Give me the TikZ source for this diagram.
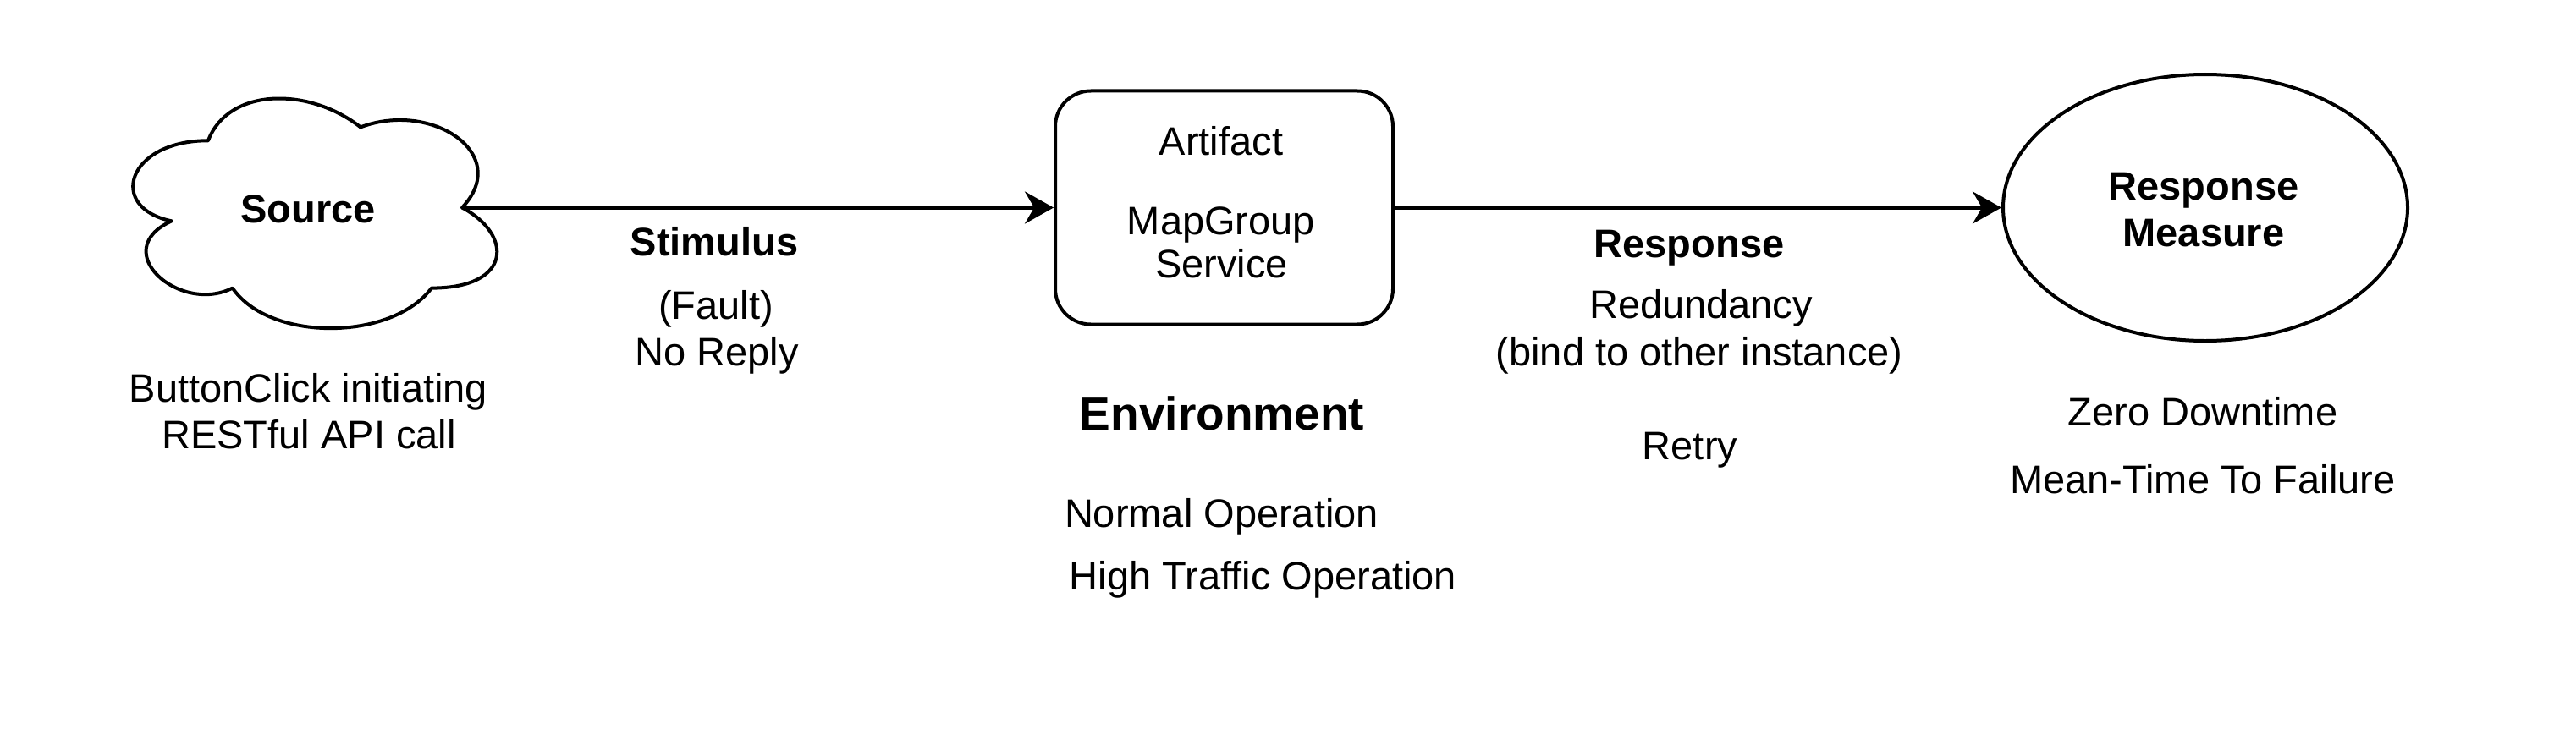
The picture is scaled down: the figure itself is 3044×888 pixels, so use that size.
\documentclass[tikz,border=0pt]{standalone}
\usepackage{fontspec}
\setmainfont{Liberation Sans}
\usetikzlibrary{arrows.meta,shapes.geometric}
\begin{document}
\begin{tikzpicture}[x=0.5pt,y=-0.5pt,
  txt/.style={anchor=base, inner sep=0pt, font=\fontsize{23.5pt}{27.5pt}\selectfont},
  btxt/.style={anchor=base, inner sep=0pt, font=\fontsize{23.5pt}{27.5pt}\selectfont\bfseries},
  bigtxt/.style={anchor=base, inner sep=0pt, font=\fontsize{27.5pt}{33pt}\selectfont\bfseries},
  shapeline/.style={draw=black, line width=2pt},
  conn/.style={line width=2pt, -{Stealth[length=17pt,width=19pt,inset=5.5pt]}},
]
\fill[white] (0,0) rectangle (3044,888);
\useasboundingbox (0,0) rectangle (3044,888);

% Source cloud
\node[inner sep=0pt, minimum width=240pt, minimum height=158.5pt] (src) at (366,245.5) {};
\draw[shapeline, line join=round]
  (246,166.25)
  .. controls (150,166.25) and (126,245.5) .. (202.8,261.35)
  .. controls (126,296.22) and (212.4,372.3) .. (274.8,340.6)
  .. controls (318,404) and (462,404) .. (510,340.6)
  .. controls (606,340.6) and (606,277.2) .. (546,245.5)
  .. controls (606,182.1) and (510,118.7) .. (426,150.4)
  .. controls (366,102.85) and (270,102.85) .. (246,166.25)
  -- cycle;
\coordinate (srcE) at (546,245.5);
\node[btxt] (srcT) at (364,263) {Source};

% Artifact box
\node[shapeline, rounded corners=21pt, minimum width=199.5pt, minimum height=138pt, inner sep=0pt] (art) at (1446.5,245.5) {};
\node[txt] (artT1) at (1443,183) {Artifact};
\node[txt] (artT2) at (1443,277) {MapGroup};
\node[txt] (artT3) at (1443.5,328) {Service};

% Response measure ellipse
\node[shapeline, ellipse, minimum width=239pt, minimum height=157.5pt, inner sep=0pt] (rm) at (2606,245.5) {};
\node[btxt] (rmT1) at (2604,236) {Response};
\node[btxt] (rmT2) at (2604,291) {Measure};

% connectors
\draw[conn] (srcE) -- (art.west);
\draw[conn] (art.east) -- (rm.west);

% Source texts
\node[txt] (bc1) at (364.5,475) {ButtonClick initiating};
\node[txt] (bc2) at (365,530) {RESTful API call};

% Stimulus texts
\node[btxt] (stim) at (844,302) {Stimulus};
\node[txt] (fault) at (846,377) {(Fault)};
\node[txt] (norep) at (847,432) {No Reply};

% Environment texts
\node[bigtxt] (env) at (1444,508) {Environment};
\node[txt] (envN) at (1443.5,623) {Normal Operation};
\node[txt] (envH) at (1492.5,697) {High Traffic Operation};

% Response texts
\node[btxt] (resp) at (1996,304) {Response};
\node[txt] (red) at (2010,376) {Redundancy};
\node[txt] (bind) at (2008,432) {(bind to other instance)};
\node[txt] (retry) at (1997,543) {Retry};

% Response measure texts
\node[txt] (zero) at (2603,503) {Zero Downtime};
\node[txt] (mttf) at (2603,583) {Mean-Time To Failure};
\end{tikzpicture}
\end{document}
